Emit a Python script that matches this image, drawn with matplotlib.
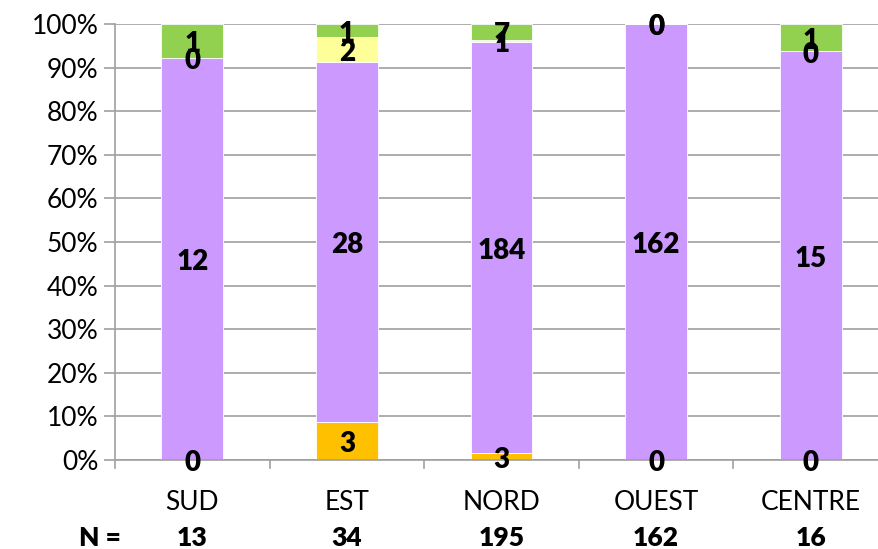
import numpy as np
import matplotlib.pyplot as plt

# regions and counts per group
regions = ['SUD', 'EST', 'NORD', 'OUEST', 'CENTRE']
orange = [0, 3, 3, 0, 0]
purple = [12, 28, 184, 162, 15]
yellow = [0, 2, 1, 0, 0]
green = [1, 1, 7, 0, 1]
totals = [13, 34, 195, 162, 16]

series = [orange, purple, yellow, green]
colors = ['#FFC000', '#CC99FF', '#FFFF99', '#92D050']

plt.rcParams['font.family'] = ['Lato', 'DejaVu Sans']

fig = plt.figure(figsize=(8.79, 5.49), dpi=100)
ax = fig.add_axes([115/879, (549-460)/549, 773/879, 436/549])

x = np.arange(len(regions))
tot = np.array(totals, dtype=float)
bottom = np.zeros(len(regions))
for vals, col in zip(series, colors):
    v = np.array(vals, dtype=float)
    pct = v / tot * 100
    ax.bar(x, pct, 0.4, bottom=bottom, color=col, edgecolor='white', linewidth=0.6, zorder=2)
    for xi, b, p, n in zip(x, bottom, pct, vals):
        ax.text(xi, b + p/2 - 0.8, str(n), ha='center', va='center',
                fontsize=20, fontweight='heavy', zorder=3)
    bottom += pct

ax.set_xlim(-0.5, 4.5)
ax.set_ylim(0, 100)
ax.set_yticks(np.arange(0, 101, 10))
ax.set_yticklabels([f'{t}%' for t in range(0, 101, 10)], fontsize=19)
ax.yaxis.grid(True, color='#A0A0A0', linewidth=1.2, zorder=0)
ax.set_xticks([])
for s in ['top', 'right']:
    ax.spines[s].set_visible(False)
ax.spines['left'].set_color('#A0A0A0')
ax.spines['bottom'].set_color('#A0A0A0')
ax.spines['left'].set_linewidth(1.2)
ax.spines['bottom'].set_linewidth(1.2)
ax.tick_params(axis='y', length=8, color='#A0A0A0', width=1.2, pad=4)

# category boundary ticks below the axis
for b in np.arange(-0.5, 4.6, 1.0):
    ax.plot([b, b], [0, -1.8], color='#A0A0A0', linewidth=1.2, clip_on=False)

for xi, r, n in zip(x, regions, totals):
    ax.text(xi, -9.7, r, ha='center', va='center', fontsize=19)
    ax.text(xi, -18.0, str(n), ha='center', va='center', fontsize=19, fontweight='heavy')
ax.text(-0.6, -18.0, 'N =', ha='center', va='center', fontsize=19, fontweight='heavy')

fig.savefig('out.png', dpi=100)
